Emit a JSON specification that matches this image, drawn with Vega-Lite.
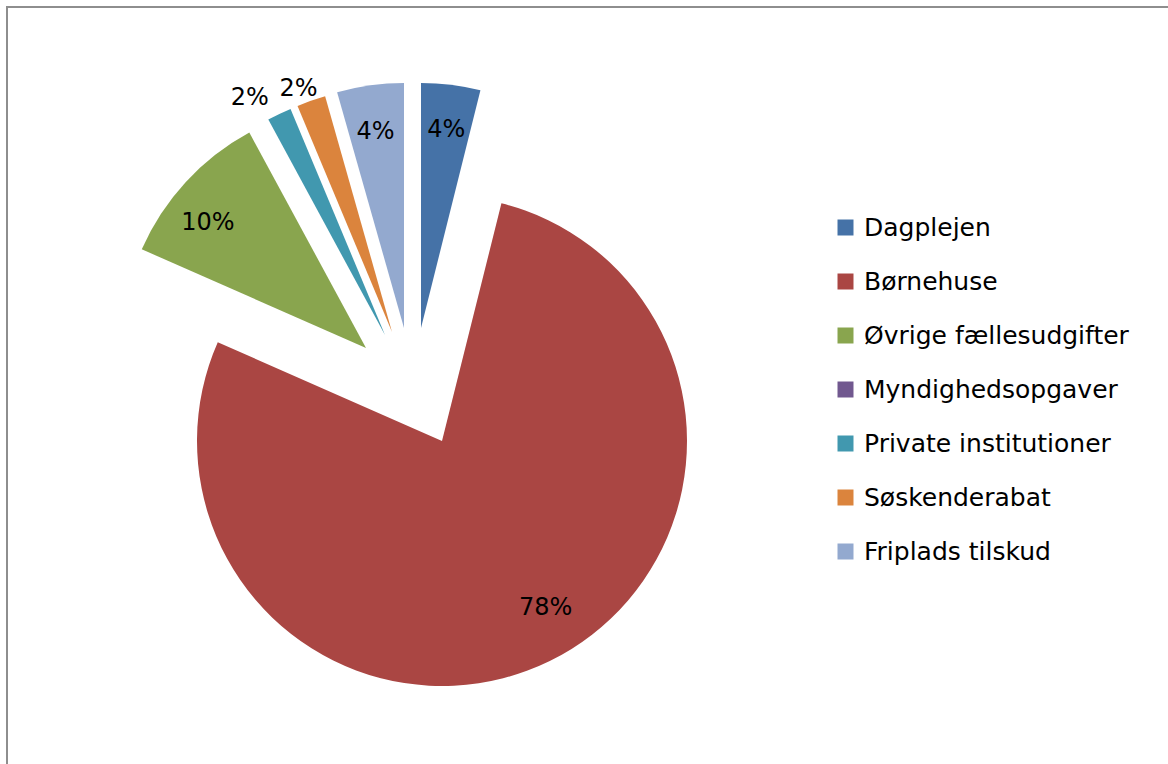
{
  "$schema": "https://vega.github.io/schema/vega-lite/v6.json",
  "width": 1168,
  "height": 770,
  "autosize": {"type": "none"},
  "padding": {"left": 7, "top": 7, "right": 0, "bottom": 0},
  "background": "white",
  "config": {
    "view": {"stroke": "#8e8e8e", "strokeWidth": 2},
    "font": "DejaVu Sans"
  },
  "data": {
    "values": [
      {"category": "Dagplejen", "value": 3.9, "order": 1, "label": "4%"},
      {"category": "Børnehuse", "value": 77.7, "order": 2, "label": "78%"},
      {"category": "Øvrige fællesudgifter", "value": 10.5, "order": 3, "label": "10%"},
      {"category": "Myndighedsopgaver", "value": 0, "order": 4, "label": "0%"},
      {"category": "Private institutioner", "value": 1.6, "order": 5, "label": "2%"},
      {"category": "Søskenderabat", "value": 1.9, "order": 6, "label": "2%"},
      {"category": "Friplads tilskud", "value": 4.4, "order": 7, "label": "4%"}
    ]
  },
  "transform": [
    {"stack": "value", "groupby": [], "sort": [{"field": "order", "order": "ascending"}], "as": ["v0", "v1"]}
  ],
  "layer": [
    {
      "data": {"values": [{"frame": "border"}]},
      "transform": [],
      "mark": {"type": "rect", "x": 0, "y": 0, "x2": {"expr": "width"}, "y2": {"expr": "height"}, "fill": null, "stroke": "#8e8e8e", "strokeWidth": 2},
      "encoding": {}
    },
    {
      "transform": [{"filter": "datum.category === 'Dagplejen'"}],
      "mark": {"type": "arc", "radius": 245, "xOffset": -170, "yOffset": -64},
      "encoding": {
        "theta": {"field": "v0", "type": "quantitative", "scale": {"domain": [0, 100]}},
        "theta2": {"field": "v1"},
        "color": {
          "field": "category", "type": "nominal",
          "scale": {
            "domain": ["Dagplejen", "Børnehuse", "Øvrige fællesudgifter", "Myndighedsopgaver", "Private institutioner", "Søskenderabat", "Friplads tilskud"],
            "range": ["#4572A7", "#AA4643", "#89A54E", "#71588F", "#4198AF", "#DB843D", "#93A9CF"]
          },
          "legend": {
            "orient": "none", "legendX": 826, "legendY": 208, "title": null,
            "symbolType": "square", "symbolSize": 256, "symbolStrokeWidth": 0,
            "labelFontSize": 25, "labelFont": "DejaVu Sans", "labelColor": "black",
            "rowPadding": 28, "labelOffset": 6, "padding": 0, "labelLimit": 400
          }
        }
      }
    },
    {
      "transform": [{"filter": "datum.category === 'Børnehuse'"}],
      "mark": {"type": "arc", "radius": 245, "xOffset": -149, "yOffset": 49},
      "encoding": {
        "theta": {"field": "v0", "type": "quantitative", "scale": {"domain": [0, 100]}},
        "theta2": {"field": "v1"},
        "color": {"field": "category", "type": "nominal"}
      }
    },
    {
      "transform": [{"filter": "datum.category === 'Øvrige fællesudgifter'"}],
      "mark": {"type": "arc", "radius": 245, "xOffset": -225, "yOffset": -44},
      "encoding": {
        "theta": {"field": "v0", "type": "quantitative", "scale": {"domain": [0, 100]}},
        "theta2": {"field": "v1"},
        "color": {"field": "category", "type": "nominal"}
      }
    },
    {
      "transform": [{"filter": "datum.category === 'Private institutioner'"}],
      "mark": {"type": "arc", "radius": 245, "xOffset": -206, "yOffset": -57},
      "encoding": {
        "theta": {"field": "v0", "type": "quantitative", "scale": {"domain": [0, 100]}},
        "theta2": {"field": "v1"},
        "color": {"field": "category", "type": "nominal"}
      }
    },
    {
      "transform": [{"filter": "datum.category === 'Søskenderabat'"}],
      "mark": {"type": "arc", "radius": 245, "xOffset": -199, "yOffset": -60},
      "encoding": {
        "theta": {"field": "v0", "type": "quantitative", "scale": {"domain": [0, 100]}},
        "theta2": {"field": "v1"},
        "color": {"field": "category", "type": "nominal"}
      }
    },
    {
      "transform": [{"filter": "datum.category === 'Friplads tilskud'"}],
      "mark": {"type": "arc", "radius": 245, "xOffset": -187, "yOffset": -64},
      "encoding": {
        "theta": {"field": "v0", "type": "quantitative", "scale": {"domain": [0, 100]}},
        "theta2": {"field": "v1"},
        "color": {"field": "category", "type": "nominal"}
      }
    },
    {
      "mark": {"type": "text", "radius": 199, "dx": -169, "dy": -64, "fontSize": 24, "font": "DejaVu Sans", "color": "black", "align": "center", "baseline": "middle"},
      "encoding": {
        "theta": {"field": "value", "type": "quantitative", "stack": true, "scale": {"domain": [0, 100]}},
        "order": {"field": "order", "type": "quantitative"},
        "text": {"condition": {"test": "datum.category === 'Dagplejen'", "field": "label"}, "value": ""}
      }
    },
    {
      "mark": {"type": "text", "radius": 197, "dx": -132, "dy": 39, "fontSize": 24, "font": "DejaVu Sans", "color": "black", "align": "center", "baseline": "middle"},
      "encoding": {
        "theta": {"field": "value", "type": "quantitative", "stack": true, "scale": {"domain": [0, 100]}},
        "order": {"field": "order", "type": "quantitative"},
        "text": {"condition": {"test": "datum.category === 'Børnehuse'", "field": "label"}, "value": ""}
      }
    },
    {
      "mark": {"type": "text", "radius": 200, "dx": -236, "dy": -33, "fontSize": 24, "font": "DejaVu Sans", "color": "black", "align": "center", "baseline": "middle"},
      "encoding": {
        "theta": {"field": "value", "type": "quantitative", "stack": true, "scale": {"domain": [0, 100]}},
        "order": {"field": "order", "type": "quantitative"},
        "text": {"condition": {"test": "datum.category === 'Øvrige fællesudgifter'", "field": "label"}, "value": ""}
      }
    },
    {
      "mark": {"type": "text", "radius": 265, "dx": -227, "dy": -55, "fontSize": 24, "font": "DejaVu Sans", "color": "black", "align": "center", "baseline": "middle"},
      "encoding": {
        "theta": {"field": "value", "type": "quantitative", "stack": true, "scale": {"domain": [0, 100]}},
        "order": {"field": "order", "type": "quantitative"},
        "text": {"condition": {"test": "datum.category === 'Private institutioner'", "field": "label"}, "value": ""}
      }
    },
    {
      "mark": {"type": "text", "radius": 259, "dx": -207, "dy": -58, "fontSize": 24, "font": "DejaVu Sans", "color": "black", "align": "center", "baseline": "middle"},
      "encoding": {
        "theta": {"field": "value", "type": "quantitative", "stack": true, "scale": {"domain": [0, 100]}},
        "order": {"field": "order", "type": "quantitative"},
        "text": {"condition": {"test": "datum.category === 'Søskenderabat'", "field": "label"}, "value": ""}
      }
    },
    {
      "mark": {"type": "text", "radius": 199, "dx": -188, "dy": -63, "fontSize": 24, "font": "DejaVu Sans", "color": "black", "align": "center", "baseline": "middle"},
      "encoding": {
        "theta": {"field": "value", "type": "quantitative", "stack": true, "scale": {"domain": [0, 100]}},
        "order": {"field": "order", "type": "quantitative"},
        "text": {"condition": {"test": "datum.category === 'Friplads tilskud'", "field": "label"}, "value": ""}
      }
    }
  ]
}
